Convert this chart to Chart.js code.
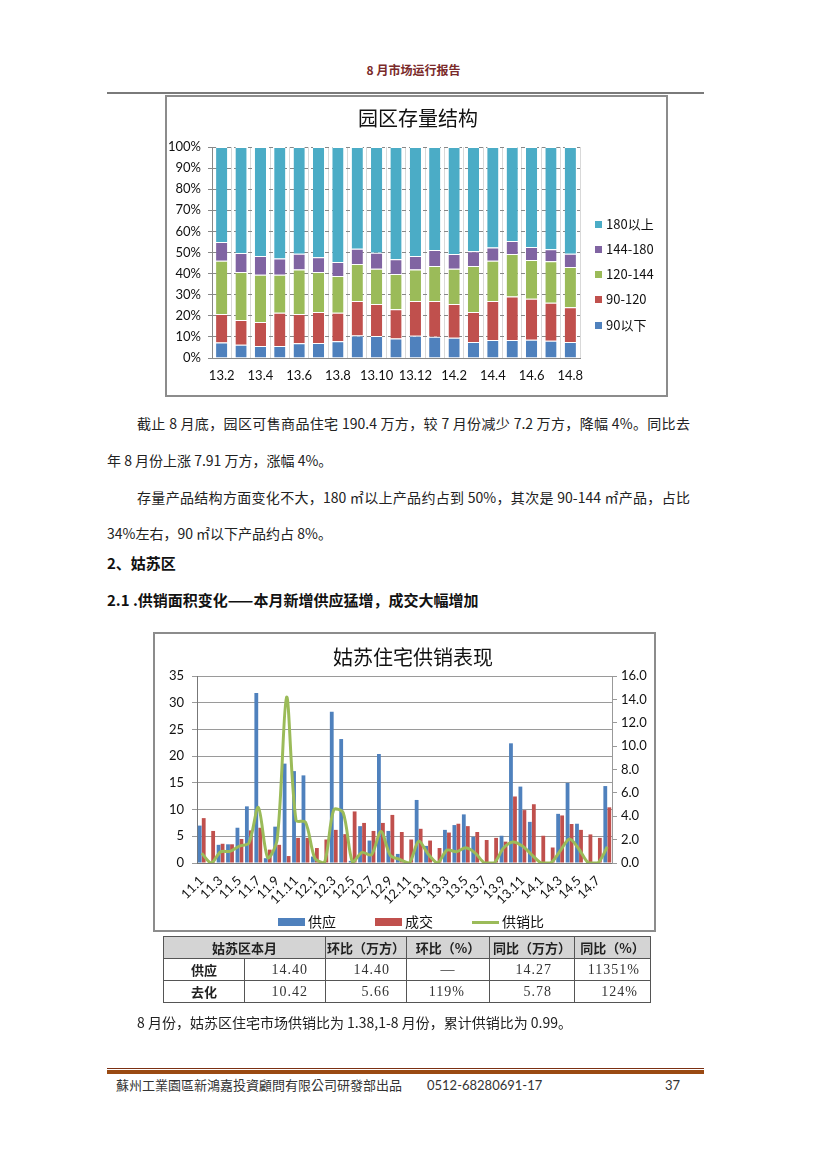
<!DOCTYPE html>
<html><head><meta charset="utf-8">
<script src="https://cdn.jsdelivr.net/npm/chart.js@4.4.1/dist/chart.umd.min.js"></script>
<style>
body{margin:0;background:#fff;}
#page{position:relative;width:827px;height:1169px;overflow:hidden;font-family:"Noto Sans CJK SC",sans-serif;color:#222;background:#fff;}
.abs{position:absolute;white-space:nowrap;}
.para{font-size:14px;line-height:20px;color:#222;}
.just{text-align:justify;text-align-last:justify;white-space:normal;}
.box{position:absolute;border:2px solid #8c8c8c;box-sizing:border-box;background:#fff;}
.ctitle{position:absolute;font-family:"Noto Sans CJK SC",sans-serif;font-size:20px;line-height:24px;color:#111;white-space:nowrap;text-align:center;width:300px;}
.leg{position:absolute;font-family:"Noto Sans CJK SC",sans-serif;font-size:13px;line-height:16px;color:#111;white-space:nowrap;}
.sw{display:inline-block;vertical-align:middle;}
table.t{position:absolute;left:163px;top:936px;border-collapse:collapse;font-size:13px;}
table.t td{border:1px solid #555;padding:0;height:21px;}
table.t tr.h td{background:#d4d4d4;font-weight:bold;text-align:center;font-family:"Noto Sans CJK SC",sans-serif;}
table.t td.lab{font-weight:bold;text-align:center;}
table.t td.num{text-align:right;font-family:"Liberation Serif",serif;color:#333;font-size:14px;letter-spacing:1px;}
</style></head>
<body><div id="page">

<div class="abs" style="left:0;width:827px;top:61px;text-align:center;font-size:12px;font-weight:bold;color:#7a2a2a;line-height:18px;">8 月市场运行报告</div>
<div class="abs" style="left:107px;top:92px;width:597px;height:2px;background:#7a7a7a;"></div>

<div class="box" style="left:165px;top:95px;width:503px;height:302px;">
  <canvas id="c1" width="499" height="298" style="display:block;width:499px;height:298px;"></canvas>
</div>
<div class="ctitle" style="left:268px;top:106px;">园区存量结构</div>
<div id="leg1"></div>

<div class="abs para just" style="left:137px;top:413px;width:553px;">截止 8 月底，园区可售商品住宅 190.4 万方，较 7 月份减少 7.2 万方，降幅 4%。同比去</div>
<div class="abs para" style="left:107px;top:450px;">年 8 月份上涨 7.91 万方，涨幅 4%。</div>
<div class="abs para just" style="left:137px;top:487px;width:553px;">存量产品结构方面变化不大，180 ㎡以上产品约占到 50%，其次是 90-144 ㎡产品，占比</div>
<div class="abs para" style="left:107px;top:523px;">34%左右，90 ㎡以下产品约占 8%。</div>

<div class="abs" style="left:107px;top:553px;font-size:15px;font-weight:bold;line-height:20px;color:#111;">2、姑苏区</div>
<div class="abs" style="left:107px;top:590px;font-size:15px;font-weight:bold;line-height:20px;color:#111;">2.1 .供销面积变化——本月新增供应猛增，成交大幅增加</div>

<div class="box" style="left:153px;top:632px;width:503px;height:300px;">
  <canvas id="c2" width="499" height="296" style="display:block;width:499px;height:296px;"></canvas>
</div>
<div class="ctitle" style="left:263px;top:645px;">姑苏住宅供销表现</div>
<div id="leg2"></div>

<table class="t">
<tr class="h"><td colspan="2" style="width:161px;">姑苏区本月</td><td style="width:80px;">环比（万方）</td><td style="width:82px;">环比（%）</td><td style="width:84px;">同比（万方）</td><td style="width:75px;">同比（%）</td></tr>
<tr><td class="lab" style="width:80px;">供应</td><td class="num" style="padding-right:17px;">14.40</td><td class="num" style="padding-right:16px;">14.40</td><td class="num" style="text-align:center;">—</td><td class="num" style="padding-right:22px;">14.27</td><td class="num" style="padding-right:10px;">11351%</td></tr>
<tr><td class="lab">去化</td><td class="num" style="padding-right:17px;">10.42</td><td class="num" style="padding-right:16px;">5.66</td><td class="num" style="padding-right:24px;">119%</td><td class="num" style="padding-right:22px;">5.78</td><td class="num" style="padding-right:12px;">124%</td></tr>
</table>

<div class="abs para" style="left:137px;top:1012px;">8 月份，姑苏区住宅市场供销比为 1.38,1-8 月份，累计供销比为 0.99。</div>

<div class="abs" style="left:107px;top:1068px;width:597px;height:1px;background:#7b2f12;"></div>
<div class="abs" style="left:107px;top:1070px;width:597px;height:4px;background:#9a4a12;"></div>
<div class="abs" style="left:116px;top:1077px;font-family:'Noto Sans CJK TC',sans-serif;font-size:13px;line-height:16px;color:#333;">蘇州工業園區新鴻嘉投資顧問有限公司研發部出品</div>
<div class="abs" style="left:427px;top:1077px;font-family:Lato,sans-serif;font-size:13px;line-height:16px;color:#333;">0512-68280691-17</div>
<div class="abs" style="left:665px;top:1077px;font-family:Lato,sans-serif;font-size:13px;line-height:16px;color:#333;">37</div>

</div>
<script>
// ---------- Chart 1 data: 园区存量结构 ----------
const months1 = ['13.2','13.3','13.4','13.5','13.6','13.7','13.8','13.9','13.10','13.11','13.12','14.1','14.2','14.3','14.4','14.5','14.6','14.7','14.8'];
const seriesNames1 = ['90以下','90-120','120-144','144-180','180以上'];
const under90  = [7.3, 6.3, 5.7, 5.7, 7.0, 7.1, 7.9, 10.7, 10.4, 9.2, 10.6, 10.1, 9.6, 7.6, 8.5, 8.5, 8.7, 8.2, 7.6];
const r90_120  = [13.6, 11.7, 11.4, 15.8, 13.9, 14.7, 13.6, 16.3, 15.2, 13.9, 16.4, 16.9, 16.0, 14.2, 18.5, 20.6, 19.4, 18.0, 16.4];
const r120_144 = [25.2, 22.8, 22.4, 18.0, 21.0, 19.0, 17.4, 17.5, 16.7, 16.7, 15.0, 16.6, 16.7, 21.8, 19.1, 20.2, 18.3, 19.6, 19.1];
const r144_180 = [8.9, 9.0, 8.8, 7.6, 7.5, 6.9, 6.6, 7.3, 7.6, 7.0, 6.3, 7.6, 7.0, 7.0, 6.3, 6.2, 6.2, 5.7, 6.3];
const over180  = [45.0, 50.2, 51.7, 52.9, 50.6, 52.3, 54.5, 48.2, 50.1, 53.2, 51.7, 48.8, 50.7, 49.4, 47.6, 44.5, 47.4, 48.5, 50.6];
const yTicks1 = [0,10,20,30,40,50,60,70,80,90,100];

// ---------- Chart 2 data: 姑苏住宅供销表现 ----------
const months2 = ['11.1','11.2','11.3','11.4','11.5','11.6','11.7','11.8','11.9','11.10','11.11','11.12',
                 '12.1','12.2','12.3','12.4','12.5','12.6','12.7','12.8','12.9','12.10','12.11','12.12',
                 '13.1','13.2','13.3','13.4','13.5','13.6','13.7','13.8','13.9','13.10','13.11','13.12',
                 '14.1','14.2','14.3','14.4','14.5','14.6','14.7','14.8'];
const supply = [7.0, 0, 3.4, 3.5, 6.6, 10.6, 31.8, 0.9, 6.8, 18.6, 17.2, 16.4,
                1.2, 0, 28.3, 23.2, 0.4, 6.9, 4.2, 20.4, 6.0, 1.7, 0, 11.8,
                3.2, 0, 6.2, 7.1, 9.1, 4.9, 0, 0, 5.1, 22.4, 14.3, 7.7,
                0, 0, 9.2, 15.0, 7.35, 0, 0, 14.4];
const sales  = [8.4, 6.0, 3.6, 3.5, 4.5, 6.1, 6.6, 2.5, 3.4, 1.3, 4.7, 4.7,
                2.8, 4.4, 6.2, 5.4, 9.65, 7.5, 6.0, 7.5, 9.0, 5.8, 4.4, 6.4,
                4.2, 2.8, 5.7, 7.35, 6.9, 5.8, 4.3, 4.7, 4.0, 12.45, 9.9, 11.0,
                5.1, 2.9, 8.9, 7.3, 6.2, 5.35, 4.7, 10.42];
const ratio  = [0.83, 0, 0.95, 1.0, 1.45, 1.7, 4.75, 0.45, 2.0, 14.2, 3.65, 3.5,
                0.4, 0, 4.55, 4.3, 0.05, 0.9, 0.7, 2.7, 0.65, 0.3, 0, 1.85,
                0.77, 0, 1.1, 0.97, 1.3, 0.85, 0, 0, 1.28, 1.8, 1.45, 0.7,
                0, 0, 1.03, 2.05, 1.18, 0, 0, 1.38];
const seriesNames2 = ['供应','成交','供销比'];

const C = {blue:'#4f81bd', red:'#c0504d', green:'#9bbb59', purple:'#8064a2', cyan:'#4bacc6'};
const tickFont = {family:'Lato, "Noto Sans CJK SC", sans-serif', size:13};

// Chart 1
const colors1 = [C.blue, C.red, C.green, C.purple, C.cyan];
const vals1 = [under90, r90_120, r120_144, r144_180, over180];
new Chart(document.getElementById('c1'), {
  type:'bar',
  data:{labels:months1, datasets: seriesNames1.map((n,i)=>({label:n, data:vals1[i], backgroundColor:colors1[i], borderColor:'#ffffff', borderWidth:{top:1}, borderSkipped:'bottom', barPercentage:0.58, categoryPercentage:1}))},
  options:{
    responsive:false, animation:false,
    layout:{padding:{left:0,right:86,top:50,bottom:7}},
    plugins:{legend:{display:false}, tooltip:{enabled:false}, title:{display:false}},
    scales:{
      x:{stacked:true, offset:true,
         grid:{display:true, offset:true, color:'#d9d9d9', drawTicks:false},
         border:{display:true, color:'#888'},
         ticks:{autoSkip:false, maxRotation:0, minRotation:0, color:'#111', font:tickFont, padding:10,
                callback:function(v,i){return i%2===0? this.getLabelForValue(v):'';}},
         afterFit:(s)=>{s.height=30;}},
      y:{stacked:true, min:0, max:100,
         afterBuildTicks:(s)=>{s.ticks = yTicks1.map(v=>({value:v}));},
         grid:{color:'#888', tickLength:4},
         border:{display:true, color:'#888', dash:[4,3]},
         ticks:{color:'#111', font:tickFont, padding:7, callback:(v)=>v+'%'},
         afterFit:(s)=>{s.width=45;}}
    }
  }
});

// Chart 2
new Chart(document.getElementById('c2'), {
  data:{labels:months2, datasets:[
    {type:'line', label:seriesNames2[2], data:ratio, yAxisID:'y1', borderColor:C.green, borderWidth:3, pointRadius:0, tension:0.3, order:0},
    {type:'bar', label:seriesNames2[0], data:supply, yAxisID:'y', backgroundColor:C.blue, barPercentage:0.95, categoryPercentage:0.85, order:1},
    {type:'bar', label:seriesNames2[1], data:sales, yAxisID:'y', backgroundColor:C.red, barPercentage:0.95, categoryPercentage:0.85, order:1}
  ]},
  options:{
    responsive:false, animation:false,
    layout:{padding:{left:0,right:0,top:42,bottom:25}},
    plugins:{legend:{display:false}, tooltip:{enabled:false}, title:{display:false}},
    scales:{
      x:{offset:true, grid:{display:false}, border:{display:true, color:'#777'},
         ticks:{autoSkip:false, maxRotation:45, minRotation:45, color:'#111', font:tickFont, padding:2,
                callback:function(v,i){return i%2===0? this.getLabelForValue(v):'';}},
         afterFit:(s)=>{s.height=42;}},
      y:{position:'left', min:0, max:35,
         ticks:{stepSize:5, color:'#111', font:tickFont, padding:8},
         grid:{color:'#9a9a9a', tickLength:5},
         border:{display:true, color:'#777'},
         afterFit:(s)=>{s.width=42;}},
      y1:{position:'right', min:0, max:16,
         ticks:{stepSize:2, color:'#111', font:tickFont, padding:4, callback:(v)=>Number(v).toFixed(1)},
         grid:{drawOnChartArea:false, color:'#999', tickLength:5},
         border:{display:true, color:'#999'},
         afterFit:(s)=>{s.width=42;}}
    }
  }
});

// HTML legends
(function(){
  const l1 = document.getElementById('leg1');
  const ys = [224,249,274,299,325];
  const order = [4,3,2,1,0];
  order.forEach((si,k)=>{
    const d = document.createElement('div'); d.className='leg';
    d.style.left='595px'; d.style.top=(ys[k]-8)+'px';
    d.innerHTML = '<span class="sw" style="width:7px;height:7px;background:'+colors1[si]+';margin-right:4px;position:relative;top:-1px;"></span>'+seriesNames1[si];
    l1.appendChild(d);
  });
  const l2 = document.getElementById('leg2');
  const items = [[278,C.blue,8,seriesNames2[0]],[375,C.red,8,seriesNames2[1]],[472,C.green,3,seriesNames2[2]]];
  items.forEach(it=>{
    const d = document.createElement('div'); d.className='leg';
    d.style.left=it[0]+'px'; d.style.top='913px'; d.style.fontSize='14px';
    d.innerHTML = '<span class="sw" style="width:27px;height:'+it[2]+'px;background:'+it[1]+';margin-right:3px;position:relative;top:-1px;"></span>'+it[3];
    l2.appendChild(d);
  });
})();
</script>
</body></html>
